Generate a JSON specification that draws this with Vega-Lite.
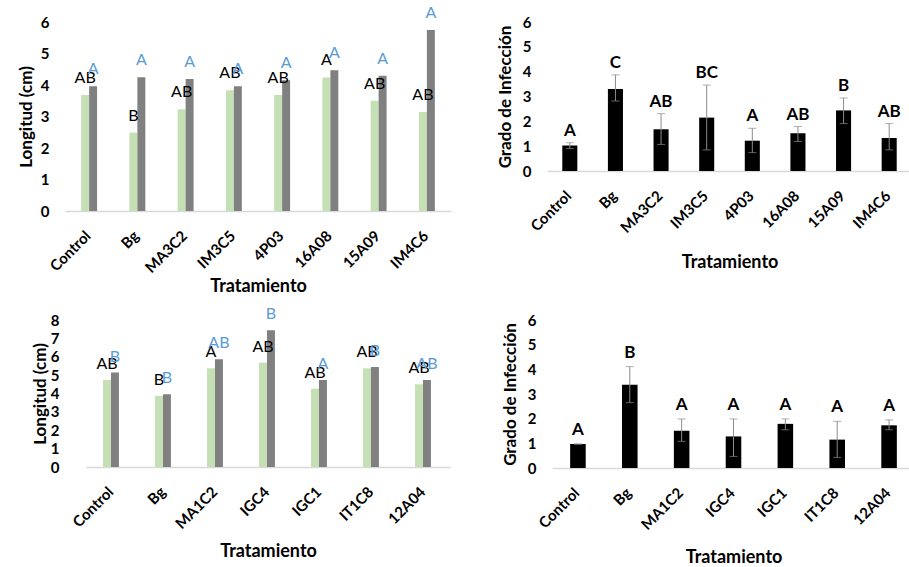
{
  "$schema": "https://vega.github.io/schema/vega-lite/v6.json",
  "padding": {"left": 17, "top": 4, "right": 0, "bottom": 0},
  "background": "white",
  "datasets": {
    "long1": [
      {"tratamiento": "Control", "serie": "Serie 1", "longitud": 3.68, "letra": "AB"},
      {"tratamiento": "Control", "serie": "Serie 2", "longitud": 3.96, "letra": "A"},
      {"tratamiento": "Bg", "serie": "Serie 1", "longitud": 2.49, "letra": "B"},
      {"tratamiento": "Bg", "serie": "Serie 2", "longitud": 4.25, "letra": "A"},
      {"tratamiento": "MA3C2", "serie": "Serie 1", "longitud": 3.23, "letra": "AB"},
      {"tratamiento": "MA3C2", "serie": "Serie 2", "longitud": 4.19, "letra": "A"},
      {"tratamiento": "IM3C5", "serie": "Serie 1", "longitud": 3.83, "letra": "AB"},
      {"tratamiento": "IM3C5", "serie": "Serie 2", "longitud": 3.96, "letra": "A"},
      {"tratamiento": "4P03", "serie": "Serie 1", "longitud": 3.68, "letra": "AB"},
      {"tratamiento": "4P03", "serie": "Serie 2", "longitud": 4.15, "letra": "A"},
      {"tratamiento": "16A08", "serie": "Serie 1", "longitud": 4.24, "letra": "A"},
      {"tratamiento": "16A08", "serie": "Serie 2", "longitud": 4.47, "letra": "A"},
      {"tratamiento": "15A09", "serie": "Serie 1", "longitud": 3.5, "letra": "AB"},
      {"tratamiento": "15A09", "serie": "Serie 2", "longitud": 4.29, "letra": "A"},
      {"tratamiento": "IM4C6", "serie": "Serie 1", "longitud": 3.14, "letra": "AB"},
      {"tratamiento": "IM4C6", "serie": "Serie 2", "longitud": 5.75, "letra": "A"}
    ],
    "inf1": [
      {"tratamiento": "Control", "grado": 1.03, "inf": 0.9, "sup": 1.14, "letra": "A"},
      {"tratamiento": "Bg", "grado": 3.3, "inf": 2.82, "sup": 3.87, "letra": "C"},
      {"tratamiento": "MA3C2", "grado": 1.68, "inf": 1.07, "sup": 2.31, "letra": "AB"},
      {"tratamiento": "IM3C5", "grado": 2.15, "inf": 0.85, "sup": 3.46, "letra": "BC"},
      {"tratamiento": "4P03", "grado": 1.22, "inf": 0.74, "sup": 1.72, "letra": "A"},
      {"tratamiento": "16A08", "grado": 1.52, "inf": 1.19, "sup": 1.79, "letra": "AB"},
      {"tratamiento": "15A09", "grado": 2.44, "inf": 1.91, "sup": 2.94, "letra": "B"},
      {"tratamiento": "IM4C6", "grado": 1.33, "inf": 0.85, "sup": 1.91, "letra": "AB"}
    ],
    "long2": [
      {"tratamiento": "Control", "serie": "Serie 1", "longitud": 4.74, "letra": "AB"},
      {"tratamiento": "Control", "serie": "Serie 2", "longitud": 5.14, "letra": "B"},
      {"tratamiento": "Bg", "serie": "Serie 1", "longitud": 3.87, "letra": "B"},
      {"tratamiento": "Bg", "serie": "Serie 2", "longitud": 3.96, "letra": "B"},
      {"tratamiento": "MA1C2", "serie": "Serie 1", "longitud": 5.37, "letra": "A"},
      {"tratamiento": "MA1C2", "serie": "Serie 2", "longitud": 5.86, "letra": "AB"},
      {"tratamiento": "IGC4", "serie": "Serie 1", "longitud": 5.68, "letra": "AB"},
      {"tratamiento": "IGC4", "serie": "Serie 2", "longitud": 7.44, "letra": "B"},
      {"tratamiento": "IGC1", "serie": "Serie 1", "longitud": 4.26, "letra": "AB"},
      {"tratamiento": "IGC1", "serie": "Serie 2", "longitud": 4.74, "letra": "A"},
      {"tratamiento": "IT1C8", "serie": "Serie 1", "longitud": 5.37, "letra": "AB"},
      {"tratamiento": "IT1C8", "serie": "Serie 2", "longitud": 5.44, "letra": "B"},
      {"tratamiento": "12A04", "serie": "Serie 1", "longitud": 4.5, "letra": "AB"},
      {"tratamiento": "12A04", "serie": "Serie 2", "longitud": 4.74, "letra": "AB"}
    ],
    "inf2": [
      {"tratamiento": "Control", "grado": 0.97, "inf": 0.97, "sup": 0.97, "letra": "A"},
      {"tratamiento": "Bg", "grado": 3.37, "inf": 2.65, "sup": 4.11, "letra": "B"},
      {"tratamiento": "MA1C2", "grado": 1.51, "inf": 1.08, "sup": 1.99, "letra": "A"},
      {"tratamiento": "IGC4", "grado": 1.28, "inf": 0.47, "sup": 1.99, "letra": "A"},
      {"tratamiento": "IGC1", "grado": 1.79, "inf": 1.55, "sup": 1.99, "letra": "A"},
      {"tratamiento": "IT1C8", "grado": 1.15, "inf": 0.43, "sup": 1.89, "letra": "A"},
      {"tratamiento": "12A04", "grado": 1.73, "inf": 1.55, "sup": 1.95, "letra": "A"}
    ]
  },
  "config": {
    "font": "Lato",
    "view": {"stroke": null},
    "axis": {
      "labelFont": "Lato", "labelFontWeight": "bold", "labelFontSize": 15, "labelColor": "#000000",
      "titleFont": "Lato", "titleFontWeight": "bold", "titleFontSize": 17, "titleColor": "#000000",
      "ticks": false, "grid": false
    },
    "axisX": {"labelAngle": -45, "domainColor": "#d9d9d9", "domainWidth": 1.5, "labelPadding": 17, "labelOffset": -6, "titleFontSize": 18},
    "axisY": {"domain": false}
  },
  "spacing": 10,
  "vconcat": [
    {
      "spacing": 45,
      "hconcat": [
        {
          "width": 386, "height": 189,
          "data": {"name": "long1"},
          "encoding": {
            "x": {"field": "tratamiento", "type": "nominal", "sort": null, "title": "Tratamiento",
                  "scale": {"paddingInner": 0.67, "paddingOuter": 0.335},
                  "axis": {"titlePadding": 2}},
            "xOffset": {"field": "serie", "type": "nominal"},
            "y": {"field": "longitud", "type": "quantitative", "title": "Longitud (cm)",
                  "scale": {"domain": [0, 6]},
                  "axis": {"values": [0, 1, 2, 3, 4, 5, 6], "labelPadding": 16, "titlePadding": 5}}
          },
          "layer": [
            {"mark": {"type": "bar"},
             "encoding": {"color": {"field": "serie", "type": "nominal", "legend": null,
                                    "scale": {"range": ["#c5e0b4", "#808080"]}}}},
            {"mark": {"type": "text", "baseline": "alphabetic", "dy": -12, "fontSize": 16, "font": "Lato"},
             "encoding": {"text": {"field": "letra"},
                          "color": {"field": "serie", "type": "nominal", "legend": null,
                                    "scale": {"range": ["#000000", "#5b9bd5"]}}}}
          ],
          "resolve": {"scale": {"color": "independent"}}
        },
        {
          "width": 365, "height": 149,
          "data": {"name": "inf1"},
          "encoding": {
            "x": {"field": "tratamiento", "type": "nominal", "sort": null, "title": "Tratamiento",
                  "scale": {"paddingInner": 0.67, "paddingOuter": 0.335},
                  "axis": {"titlePadding": 18}},
            "y": {"field": "grado", "type": "quantitative", "title": "Grado de Infección",
                  "scale": {"domain": [0, 6]},
                  "axis": {"values": [0, 1, 2, 3, 4, 5, 6], "labelPadding": 16, "titlePadding": 8}}
          },
          "layer": [
            {"mark": {"type": "bar", "color": "#000000"}},
            {"mark": {"type": "rule", "color": "#8c8c8c", "strokeWidth": 1},
             "encoding": {"y": {"field": "inf", "type": "quantitative"}, "y2": {"field": "sup"}}},
            {"mark": {"type": "tick", "color": "#8c8c8c", "size": 8, "thickness": 1},
             "encoding": {"y": {"field": "sup", "type": "quantitative"}}},
            {"mark": {"type": "tick", "color": "#8c8c8c", "size": 8, "thickness": 1},
             "encoding": {"y": {"field": "inf", "type": "quantitative"}}},
            {"mark": {"type": "text", "baseline": "alphabetic", "dy": -7, "fontSize": 17, "fontWeight": "bold", "font": "Lato", "color": "#000000"},
             "encoding": {"y": {"field": "sup", "type": "quantitative"}, "text": {"field": "letra"}}}
          ]
        }
      ]
    },
    {
      "spacing": 51,
      "hconcat": [
        {
          "width": 385, "height": 147,
          "data": {"name": "long2"},
          "encoding": {
            "x": {"field": "tratamiento", "type": "nominal", "sort": null, "title": "Tratamiento",
                  "scale": {"paddingInner": 0.654, "paddingOuter": 0.327, "range": [21, 385]},
                  "axis": {"titlePadding": 11}},
            "xOffset": {"field": "serie", "type": "nominal"},
            "y": {"field": "longitud", "type": "quantitative", "title": "Longitud (cm)",
                  "scale": {"domain": [0, 8]},
                  "axis": {"values": [0, 1, 2, 3, 4, 5, 6, 7, 8], "labelPadding": 6, "titlePadding": 1}}
          },
          "layer": [
            {"mark": {"type": "bar"},
             "encoding": {"color": {"field": "serie", "type": "nominal", "legend": null,
                                    "scale": {"range": ["#c5e0b4", "#808080"]}}}},
            {"mark": {"type": "text", "baseline": "alphabetic", "dy": -11, "fontSize": 16, "font": "Lato"},
             "encoding": {"text": {"field": "letra"},
                          "color": {"field": "serie", "type": "nominal", "legend": null,
                                    "scale": {"range": ["#000000", "#5b9bd5"]}}}}
          ],
          "resolve": {"scale": {"color": "independent"}}
        },
        {
          "width": 363, "height": 148,
          "data": {"name": "inf2"},
          "encoding": {
            "x": {"field": "tratamiento", "type": "nominal", "sort": null, "title": "Tratamiento",
                  "scale": {"paddingInner": 0.7, "paddingOuter": 0.35},
                  "axis": {"titlePadding": 16}},
            "y": {"field": "grado", "type": "quantitative", "title": "Grado de Infección",
                  "scale": {"domain": [0, 6]},
                  "axis": {"values": [0, 1, 2, 3, 4, 5, 6], "labelPadding": 16, "titlePadding": 8}}
          },
          "layer": [
            {"mark": {"type": "bar", "color": "#000000"}},
            {"mark": {"type": "rule", "color": "#8c8c8c", "strokeWidth": 1},
             "encoding": {"y": {"field": "inf", "type": "quantitative"}, "y2": {"field": "sup"}}},
            {"mark": {"type": "tick", "color": "#8c8c8c", "size": 8, "thickness": 1},
             "encoding": {"y": {"field": "sup", "type": "quantitative"}}},
            {"mark": {"type": "tick", "color": "#8c8c8c", "size": 8, "thickness": 1},
             "encoding": {"y": {"field": "inf", "type": "quantitative"}}},
            {"mark": {"type": "text", "baseline": "alphabetic", "dy": -9, "fontSize": 17, "fontWeight": "bold", "font": "Lato", "color": "#000000"},
             "encoding": {"y": {"field": "sup", "type": "quantitative"}, "text": {"field": "letra"}}}
          ]
        }
      ]
    }
  ]
}
